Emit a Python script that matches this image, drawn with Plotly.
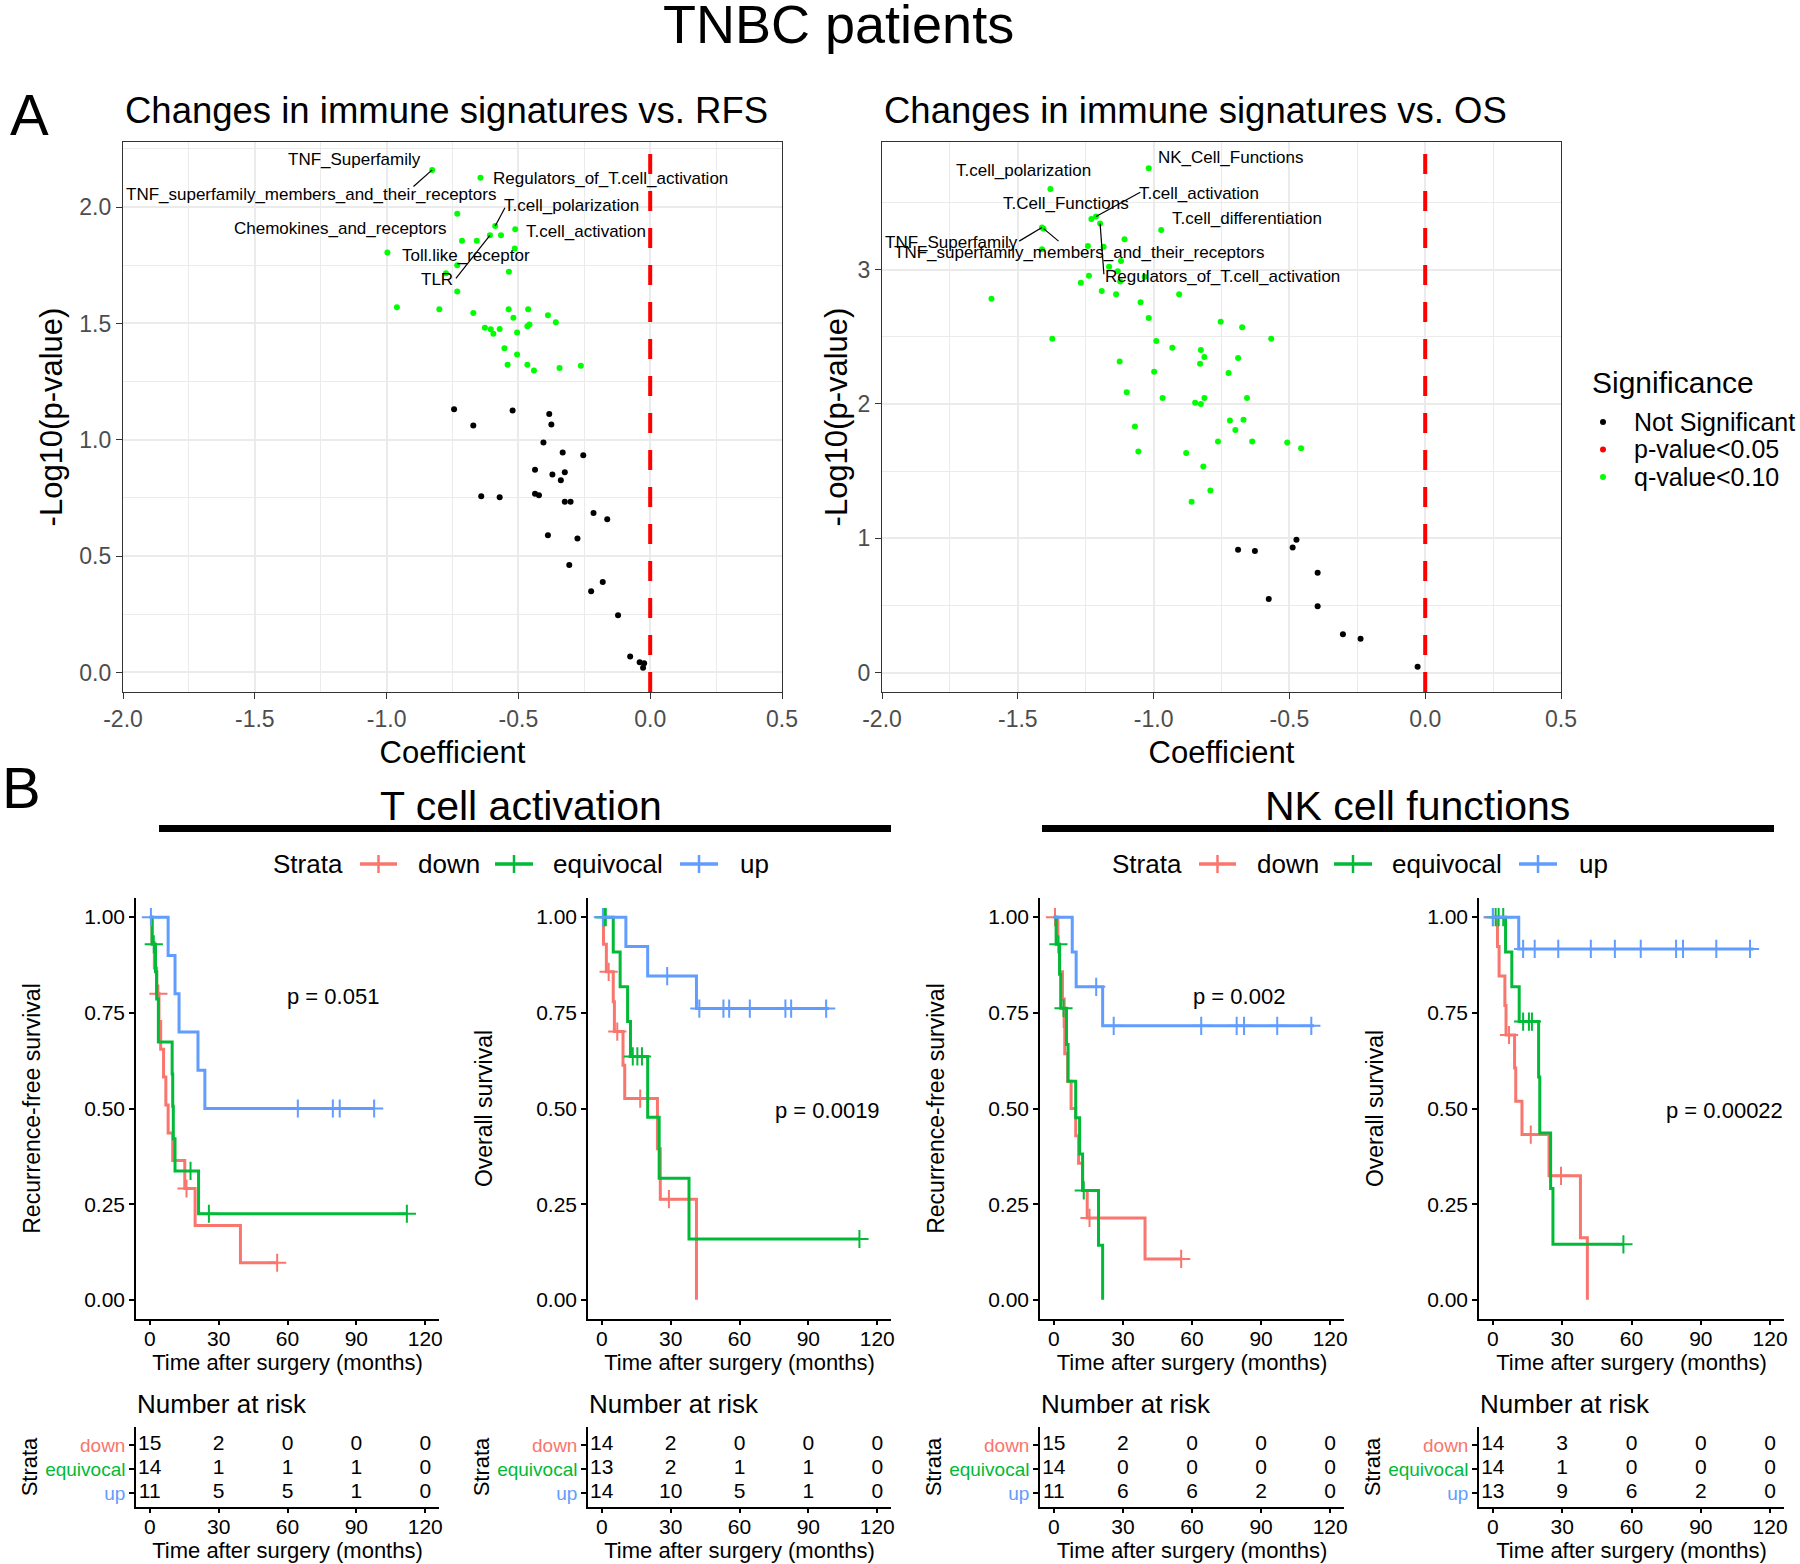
import numpy as np
import plotly.graph_objects as go

W, H = 1800, 1564
FONT = "Liberation Sans, Arial, sans-serif"

# ---------------- panel A data: coefficient vs -log10(p) ----------------
# labelled signatures come first in the significant arrays
rfs_label_names = ["TNF_Superfamily", "Regulators_of_T.cell_activation",
                   "TNF_superfamily_members_and_their_receptors", "T.cell_polarization",
                   "T.cell_activation", "Chemokines_and_receptors", "Toll.like_receptor", "TLR"]
rfs_sig_coef = [-0.827, -0.644, -0.732, -0.588, -0.512, -0.714, -0.732, -0.608,
                -0.658, -0.566, -0.514, -0.997, -0.775, -0.536, -0.732, -0.961, -0.800, -0.671,
                -0.537, -0.463, -0.519, -0.388, -0.358, -0.627, -0.605, -0.595, -0.571, -0.505,
                -0.466, -0.458, -0.553, -0.505, -0.541, -0.466, -0.441, -0.344, -0.263]
rfs_sig_logp = [2.160, 2.126, 1.972, 1.919, 1.905, 1.856, 1.750, 1.879,
                1.856, 1.879, 1.822, 1.805, 1.716, 1.722, 1.637, 1.570, 1.561, 1.545,
                1.561, 1.561, 1.525, 1.535, 1.505, 1.482, 1.475, 1.456, 1.476, 1.461,
                1.488, 1.496, 1.393, 1.367, 1.323, 1.323, 1.298, 1.309, 1.318]
rfs_ns_coef = [-0.744, -0.522, -0.671, -0.383, -0.375, -0.405, -0.332, -0.254, -0.437, -0.371,
               -0.324, -0.339, -0.641, -0.571, -0.437, -0.422, -0.324, -0.302, -0.215, -0.163,
               -0.388, -0.276, -0.307, -0.180, -0.224, -0.122, -0.076, -0.040, -0.023, -0.027]
rfs_ns_logp = [1.131, 1.126, 1.061, 1.111, 1.066, 0.988, 0.945, 0.934, 0.871, 0.851,
               0.860, 0.826, 0.757, 0.753, 0.768, 0.762, 0.734, 0.734, 0.685, 0.659,
               0.590, 0.576, 0.462, 0.389, 0.349, 0.246, 0.069, 0.044, 0.040, 0.020]

os_label_names = ["NK_Cell_Functions", "T.cell_polarization", "T.Cell_Functions", "T.cell_activation",
                  "T.cell_differentiation", "TNF_Superfamily",
                  "TNF_superfamily_members_and_their_receptors", "Regulators_of_T.cell_activation"]
os_sig_coef = [-1.018, -1.380, -1.229, -1.212, -0.972, -1.411, -1.405, -1.197,
               -1.107, -1.242, -1.184, -1.411, -1.120, -1.164, -1.132, -1.033, -1.238, -1.268,
               -1.123, -1.191, -1.138, -0.906, -1.597, -1.048, -1.018, -0.753, -0.674, -1.373,
               -0.567, -0.990, -0.931, -0.826, -0.813, -0.689, -1.125, -0.829, -0.998, -0.724,
               -1.099, -0.967, -0.813, -0.656, -0.847, -0.826, -0.719, -0.669, -0.699, -1.069,
               -0.763, -0.637, -0.508, -0.457, -1.056, -0.880, -0.817, -0.791, -0.860]
os_sig_logp = [3.754, 3.600, 3.377, 3.396, 3.295, 3.313, 3.305, 3.343,
               3.226, 3.175, 3.170, 3.151, 3.064, 3.021, 2.987, 2.947, 2.955, 2.902,
               2.912, 2.841, 2.817, 2.817, 2.782, 2.756, 2.639, 2.612, 2.570, 2.485,
               2.485, 2.469, 2.418, 2.402, 2.349, 2.341, 2.315, 2.299, 2.240, 2.230,
               2.086, 2.044, 2.044, 2.044, 2.009, 1.999, 1.876, 1.882, 1.805, 1.831,
               1.720, 1.720, 1.712, 1.669, 1.645, 1.635, 1.534, 1.356, 1.271]
os_ns_coef = [-0.689, -0.627, -0.488, -0.474, -0.396, -0.576, -0.396, -0.303, -0.238, -0.028]
os_ns_logp = [0.915, 0.904, 0.931, 0.989, 0.742, 0.548, 0.493, 0.285, 0.251, 0.043]

ref_coef = 0.0
coef_ticks = [-2.0, -1.5, -1.0, -0.5, 0.0, 0.5]
coef_ticklabels = ["-2.0", "-1.5", "-1.0", "-0.5", "0.0", "0.5"]
rfs_logp_ticks = [0.0, 0.5, 1.0, 1.5, 2.0]
rfs_logp_ticklabels = ["0.0", "0.5", "1.0", "1.5", "2.0"]
os_logp_ticks = [0, 1, 2, 3]
os_logp_ticklabels = ["0", "1", "2", "3"]

significance_levels = ["Not Significant", "p-value<0.05", "q-value<0.10"]

# ---------------- panel B data: Kaplan-Meier steps ----------------
strata = ["down", "equivocal", "up"]
time_ticks = [0, 30, 60, 90, 120]

# T cell activation, RFS
ta_rfs_down_t = [0, 1, 2, 3, 4, 4.75, 6, 7, 8, 10, 15.25, 19.75, 39.5, 55.5]
ta_rfs_down_s = [1, 0.933, 0.867, 0.8, 0.727, 0.655, 0.582, 0.509, 0.436, 0.364, 0.291, 0.194, 0.097, 0.097]
ta_rfs_down_c = [3.75, 16, 55.5]
ta_rfs_equi_t = [0, 1, 2.5, 3, 3.75, 9.75, 10, 10.25, 11, 21.25, 112]
ta_rfs_equi_s = [1, 0.929, 0.857, 0.786, 0.674, 0.590, 0.506, 0.421, 0.337, 0.225, 0.225]
ta_rfs_equi_c = [1.75, 17.75, 25.75, 112]
ta_rfs_up_t = [0, 8, 11, 12.75, 21, 24, 98]
ta_rfs_up_s = [1, 0.9, 0.8, 0.7, 0.6, 0.5, 0.5]
ta_rfs_up_c = [0.5, 64.5, 79.75, 82.75, 97.75]

# T cell activation, OS
ta_os_down_t = [0, 0.75, 2, 5, 5.5, 9.25, 10, 24.25, 25.5, 41.25]
ta_os_down_s = [1, 0.929, 0.857, 0.779, 0.701, 0.613, 0.526, 0.395, 0.263, 0]
ta_os_down_c = [3, 6.75, 16.75, 29.25]
ta_os_equi_t = [0, 5, 8, 11.25, 12.5, 20, 25, 38, 112.25]
ta_os_equi_s = [1, 0.909, 0.818, 0.727, 0.636, 0.477, 0.318, 0.159, 0.159]
ta_os_equi_c = [1.0, 1.75, 13.5, 15.5, 17.5, 112.25]
ta_os_up_t = [0, 10.5, 20, 41.25, 99]
ta_os_up_s = [1, 0.923, 0.846, 0.761, 0.761]
ta_os_up_c = [0.5, 28.5, 42.5, 53, 55.5, 64.5, 80, 82.5, 97.75]

# NK cell functions, RFS
nk_rfs_down_t = [0, 1.75, 2.5, 3.75, 4.5, 4.75, 6, 7.5, 9.5, 10.75, 12.5, 14.5, 39.6, 55.3]
nk_rfs_down_s = [1, 0.929, 0.857, 0.786, 0.714, 0.643, 0.571, 0.5, 0.429, 0.357, 0.286, 0.214, 0.107, 0.107]
nk_rfs_down_c = [0.5, 15.5, 55.3]
nk_rfs_equi_t = [0, 1, 2.5, 3, 5.5, 6.2, 9.5, 11.2, 12.5, 19.4, 21.2]
nk_rfs_equi_s = [1, 0.929, 0.851, 0.762, 0.667, 0.571, 0.476, 0.381, 0.286, 0.143, 0]
nk_rfs_equi_c = [2, 4.2, 13]
nk_rfs_up_t = [0, 8, 9.7, 21.2, 113]
nk_rfs_up_s = [1, 0.909, 0.818, 0.716, 0.716]
nk_rfs_up_c = [18.4, 26, 64, 79.4, 82.6, 97, 111.8]

# NK cell functions, OS
nk_os_down_t = [0, 2, 2.7, 5.2, 5.7, 9.4, 9.9, 12.6, 24.3, 37.9, 40.9]
nk_os_down_s = [1, 0.923, 0.846, 0.769, 0.692, 0.606, 0.519, 0.432, 0.324, 0.162, 0]
nk_os_down_c = [0, 7, 16.4, 29.5]
nk_os_equi_t = [0, 5.5, 8.2, 11.4, 19.8, 20.3, 25, 26, 56.5]
nk_os_equi_s = [1, 0.909, 0.818, 0.727, 0.582, 0.436, 0.291, 0.145, 0.145]
nk_os_equi_c = [1.2, 2.5, 4.5, 13.1, 15.6, 16.9, 56.5]
nk_os_up_t = [0, 11.2, 112.8]
nk_os_up_s = [1, 0.917, 0.917]
nk_os_up_c = [0, 13.1, 18.1, 28.3, 42.4, 52.8, 64, 79.3, 82.3, 96.7, 111.3]

# number at risk at 0, 30, 60, 90, 120 months
ta_rfs_risk_down = [15, 2, 0, 0, 0]
ta_rfs_risk_equi = [14, 1, 1, 1, 0]
ta_rfs_risk_up = [11, 5, 5, 1, 0]
ta_os_risk_down = [14, 2, 0, 0, 0]
ta_os_risk_equi = [13, 2, 1, 1, 0]
ta_os_risk_up = [14, 10, 5, 1, 0]
nk_rfs_risk_down = [15, 2, 0, 0, 0]
nk_rfs_risk_equi = [14, 0, 0, 0, 0]
nk_rfs_risk_up = [11, 6, 6, 2, 0]
nk_os_risk_down = [14, 3, 0, 0, 0]
nk_os_risk_equi = [14, 1, 0, 0, 0]
nk_os_risk_up = [13, 9, 6, 2, 0]

pvalue_text = ["p = 0.051", "p = 0.0019", "p = 0.002", "p = 0.00022"]

# ---------------- styling / placement ----------------
strata_colors = {"down": "#F8766D", "equivocal": "#00BA38", "up": "#619CFF"}
sig_colors = {"Not Significant": "black", "p-value<0.05": "red", "q-value<0.10": "#00FF00"}


def xd(a, b):
    return [a / W, b / W]


def yd(top, bottom):
    return [1 - bottom / H, 1 - top / H]


def px(x):
    return x / W


def py(y):
    return 1 - y / H


fig = go.Figure()

# ---- panel A ----
# label text centres (and optional leader end) in data units
rfs_label_place = {
    "TNF_Superfamily": (-1.120, 2.206, (-0.898, 2.089)),
    "Regulators_of_T.cell_activation": (-0.151, 2.123, None),
    "TNF_superfamily_members_and_their_receptors": (-1.286, 2.054, None),
    "T.cell_polarization": (-0.297, 2.005, (-0.551, 1.997)),
    "T.cell_activation": (-0.242, 1.896, None),
    "Chemokines_and_receptors": (-1.176, 1.909, None),
    "Toll.like_receptor": (-0.697, 1.790, None),
    "TLR": (-0.807, 1.691, (-0.737, 1.694)),
}
os_label_place = {
    "NK_Cell_Functions": (-0.714, 3.831, None),
    "T.cell_polarization": (-1.479, 3.738, None),
    "T.Cell_Functions": (-1.321, 3.494, None),
    "T.cell_activation": (-0.832, 3.568, (-1.049, 3.576)),
    "T.cell_differentiation": (-0.656, 3.382, None),
    "TNF_Superfamily": (-1.743, 3.199, (-1.495, 3.212)),
    "TNF_superfamily_members_and_their_receptors": (-1.273, 3.125, (-1.350, 3.212)),
    "Regulators_of_T.cell_activation": (-0.748, 2.950, (-1.183, 2.965)),
}

volcano = [
    ("x", "y", rfs_sig_coef, rfs_sig_logp, rfs_ns_coef, rfs_ns_logp, rfs_label_names, rfs_label_place),
    ("x2", "y2", os_sig_coef, os_sig_logp, os_ns_coef, os_ns_logp, os_label_names, os_label_place),
]
for xa, ya, sc, sl, nc, nl, names, place in volcano:
    fig.add_trace(go.Scatter(x=nc, y=nl, mode="markers", xaxis=xa, yaxis=ya,
                             marker=dict(color=sig_colors["Not Significant"], size=6), showlegend=False))
    fig.add_trace(go.Scatter(x=sc, y=sl, mode="markers", xaxis=xa, yaxis=ya,
                             marker=dict(color=sig_colors["q-value<0.10"], size=6), showlegend=False))
    fig.add_shape(type="line", xref=xa, yref=ya + " domain", x0=ref_coef, x1=ref_coef, y0=0, y1=1,
                  line=dict(color="red", width=4, dash="20px,17px"))
    for i, nm in enumerate(names):
        tx, ty, seg = place[nm]
        if seg is not None:
            fig.add_shape(type="line", xref=xa, yref=ya, x0=sc[i], y0=sl[i], x1=seg[0], y1=seg[1],
                          line=dict(color="black", width=1.2))
        fig.add_annotation(x=tx, y=ty, xref=xa, yref=ya, text=nm, showarrow=False, xanchor="center",
                           font=dict(size=17, color="black"))

# significance legend (drawn by hand to match ggplot spacing)
fig.add_annotation(x=px(1590), y=py(382), xref="paper", yref="paper", text="Significance",
                   showarrow=False, xanchor="left", yanchor="middle", font=dict(size=30, color="black"))
for i, lev in enumerate(significance_levels):
    yc = 422 + 27.5 * i
    fig.add_shape(type="circle", xref="paper", yref="paper", x0=px(1600), x1=px(1606),
                  y0=py(yc + 3), y1=py(yc - 3), fillcolor=sig_colors[lev], line=dict(width=0))
    fig.add_annotation(x=px(1632), y=py(yc), xref="paper", yref="paper", text=lev, showarrow=False,
                       xanchor="left", yanchor="middle", font=dict(size=25, color="black"))

minor_coef = list((np.array(coef_ticks[:-1]) + np.array(coef_ticks[1:])) / 2)
axis_a = dict(showline=True, mirror=True, linecolor="#333333", linewidth=1.2, ticks="outside",
              ticklen=6, tickcolor="#333333", zeroline=False, showgrid=True, gridcolor="#EBEBEB",
              gridwidth=1.6, tickfont=dict(size=23, color="#4D4D4D"), automargin=False)
grid_minor = dict(tickmode="array", showgrid=True, gridcolor="#EBEBEB", gridwidth=0.8, ticks="")
fig.update_layout(
    xaxis=dict(domain=xd(123, 782), range=[-2, 0.5], tickmode="array", tickvals=coef_ticks,
               ticktext=coef_ticklabels, anchor="y", minor=dict(tickvals=minor_coef, **grid_minor),
               title=dict(text="Coefficient", font=dict(size=31, color="black"), standoff=10), **axis_a),
    yaxis=dict(domain=yd(142, 692), range=[-0.084, 2.28], tickmode="array", tickvals=rfs_logp_ticks,
               ticktext=rfs_logp_ticklabels, anchor="x",
               minor=dict(tickvals=[0.25, 0.75, 1.25, 1.75, 2.25], **grid_minor),
               title=dict(text="-Log10(p-value)", font=dict(size=31, color="black"), standoff=7), **axis_a),
    xaxis2=dict(domain=xd(882, 1561), range=[-2, 0.5], tickmode="array", tickvals=coef_ticks,
                ticktext=coef_ticklabels, anchor="y2", minor=dict(tickvals=minor_coef, **grid_minor),
                title=dict(text="Coefficient", font=dict(size=31, color="black"), standoff=10), **axis_a),
    yaxis2=dict(domain=yd(142, 692), range=[-0.145, 3.95], tickmode="array", tickvals=os_logp_ticks,
                ticktext=os_logp_ticklabels, anchor="x2",
                minor=dict(tickvals=[0.5, 1.5, 2.5, 3.5], **grid_minor),
                title=dict(text="-Log10(p-value)", font=dict(size=31, color="black"), standoff=0), **axis_a),
)

# ---- panel B ----
km_panels = [
    dict(curves=[(ta_rfs_down_t, ta_rfs_down_s, ta_rfs_down_c), (ta_rfs_equi_t, ta_rfs_equi_s, ta_rfs_equi_c),
                 (ta_rfs_up_t, ta_rfs_up_s, ta_rfs_up_c)],
         risk=[ta_rfs_risk_down, ta_rfs_risk_equi, ta_rfs_risk_up], ytitle="Recurrence-free survival",
         px=(136, 439), ptxt=(80, 0.793)),
    dict(curves=[(ta_os_down_t, ta_os_down_s, ta_os_down_c), (ta_os_equi_t, ta_os_equi_s, ta_os_equi_c),
                 (ta_os_up_t, ta_os_up_s, ta_os_up_c)],
         risk=[ta_os_risk_down, ta_os_risk_equi, ta_os_risk_up], ytitle="Overall survival",
         px=(588, 891), ptxt=(98.5, 0.494)),
    dict(curves=[(nk_rfs_down_t, nk_rfs_down_s, nk_rfs_down_c), (nk_rfs_equi_t, nk_rfs_equi_s, nk_rfs_equi_c),
                 (nk_rfs_up_t, nk_rfs_up_s, nk_rfs_up_c)],
         risk=[nk_rfs_risk_down, nk_rfs_risk_equi, nk_rfs_risk_up], ytitle="Recurrence-free survival",
         px=(1040, 1344), ptxt=(80.2, 0.793)),
    dict(curves=[(nk_os_down_t, nk_os_down_s, nk_os_down_c), (nk_os_equi_t, nk_os_equi_s, nk_os_equi_c),
                 (nk_os_up_t, nk_os_up_s, nk_os_up_c)],
         risk=[nk_os_risk_down, nk_os_risk_equi, nk_os_risk_up], ytitle="Overall survival",
         px=(1479, 1784), ptxt=(100.4, 0.494)),
]

axis_b = dict(showline=True, linecolor="black", linewidth=1.5, ticks="outside", ticklen=5, tickwidth=1.5,
              tickcolor="black", zeroline=False, showgrid=False, tickfont=dict(size=21, color="black"),
              automargin=False)
xaxis_b = {**axis_b, "ticklen": 4, "ticklabelstandoff": -4}
strata_ticktext = ['<span style="color:%s">%s</span>' % (strata_colors[s], s) for s in strata]
strata_pos = [len(strata) - i for i in range(len(strata))]

for p, panel in enumerate(km_panels):
    n_km = 3 + p
    n_rt = 7 + p
    xk, yk = "x%d" % n_km, "y%d" % n_km
    xr, yr = "x%d" % n_rt, "y%d" % n_rt
    for s, (t, sv, cens) in zip(strata, panel["curves"]):
        col = strata_colors[s]
        fig.add_trace(go.Scatter(x=t, y=sv, mode="lines", line=dict(color=col, width=3, shape="hv"),
                                 xaxis=xk, yaxis=yk, showlegend=False))
        idx = np.searchsorted(t, cens, side="right") - 1
        fig.add_trace(go.Scatter(x=cens, y=np.array(sv)[idx], mode="markers", xaxis=xk, yaxis=yk,
                                 marker=dict(symbol="cross-thin", size=13, line=dict(width=2, color=col)),
                                 showlegend=False))
    for i, s in enumerate(strata):
        fig.add_trace(go.Scatter(x=time_ticks, y=[strata_pos[i]] * len(time_ticks), mode="text",
                                 text=[str(v) for v in panel["risk"][i]], xaxis=xr, yaxis=yr,
                                 textfont=dict(size=21, color="black"), showlegend=False))
    fig.add_annotation(x=panel["ptxt"][0], y=panel["ptxt"][1], xref=xk, yref=yk, text=pvalue_text[p],
                       showarrow=False, xanchor="center", font=dict(size=22, color="black"))
    fig.add_annotation(x=px(panel["px"][0] - 1), y=py(1404), xref="paper", yref="paper",
                       text="Number at risk", showarrow=False, xanchor="left", yanchor="middle",
                       font=dict(size=26, color="black"))
    fig.layout["xaxis%d" % n_km] = dict(domain=xd(*panel["px"]), range=[-6, 126], tickvals=time_ticks,
                                         anchor=yk, title=dict(text="Time after surgery (months)",
                                                               font=dict(size=22, color="black"), standoff=6),
                                         **xaxis_b)
    fig.layout["yaxis%d" % n_km] = dict(domain=yd(898, 1319), range=[-0.05, 1.05],
                                         tickvals=[0, 0.25, 0.5, 0.75, 1.0], tickformat=".2f", anchor=xk,
                                         title=dict(text=panel["ytitle"], font=dict(size=23, color="black"),
                                                    standoff=37), **axis_b)
    fig.layout["xaxis%d" % n_rt] = dict(domain=xd(*panel["px"]), range=[-6, 126], tickvals=time_ticks,
                                         anchor=yr, title=dict(text="Time after surgery (months)",
                                                               font=dict(size=22, color="black"), standoff=6),
                                         **xaxis_b)
    fig.layout["yaxis%d" % n_rt] = dict(domain=yd(1427, 1507), range=[0.42, 3.75], tickmode="array",
                                         tickvals=strata_pos, ticktext=strata_ticktext, anchor=xr,
                                         title=dict(text="Strata", font=dict(size=22, color="black"), standoff=1),
                                         **{**axis_b, "tickfont": dict(size=19)})

# strata legends above each pair of curves (key line + "+" censor glyph, then label)
key_offsets = [(89, 126, 145), (224, 262, 280), (409, 447, 467)]
for x0 in [271, 1110]:
    yc = 864
    fig.add_annotation(x=px(x0), y=py(yc), xref="paper", yref="paper", text="Strata", showarrow=False,
                       xanchor="left", yanchor="middle", font=dict(size=26, color="black"))
    for s, (a, b, tx) in zip(strata, key_offsets):
        col = strata_colors[s]
        fig.add_shape(type="line", xref="paper", yref="paper", x0=px(x0 + a), x1=px(x0 + b),
                      y0=py(yc), y1=py(yc), line=dict(color=col, width=3.5))
        mid = x0 + (a + b) / 2
        fig.add_shape(type="line", xref="paper", yref="paper", x0=px(mid), x1=px(mid),
                      y0=py(yc - 9), y1=py(yc + 9), line=dict(color=col, width=2.5))
        fig.add_annotation(x=px(x0 + tx), y=py(yc), xref="paper", yref="paper", text=s, showarrow=False,
                           xanchor="left", yanchor="middle", font=dict(size=26, color="black"))

# headers over panel B
for txt, cx, bar in [("T cell activation", 521, (159, 891)), ("NK cell functions", 1417, (1042, 1774))]:
    fig.add_annotation(x=px(cx), y=py(806), xref="paper", yref="paper", text=txt, showarrow=False,
                       font=dict(size=41, color="black"), xanchor="center", yanchor="middle")
    fig.add_shape(type="rect", xref="paper", yref="paper", x0=px(bar[0]), x1=px(bar[1]),
                  y0=py(832), y1=py(825), fillcolor="black", line=dict(width=0))

# titles and panel letters
fig.add_annotation(x=px(838), y=py(24), xref="paper", yref="paper", text="TNBC patients",
                   showarrow=False, font=dict(size=54, color="black"), xanchor="center", yanchor="middle")
fig.add_annotation(x=px(123), y=py(110), xref="paper", yref="paper",
                   text="Changes in immune signatures vs. RFS", showarrow=False, xanchor="left",
                   yanchor="middle", font=dict(size=36.5, color="black"))
fig.add_annotation(x=px(882), y=py(110), xref="paper", yref="paper",
                   text="Changes in immune signatures vs. OS", showarrow=False, xanchor="left",
                   yanchor="middle", font=dict(size=36.5, color="black"))
fig.add_annotation(x=px(8), y=py(115), xref="paper", yref="paper", text="A", showarrow=False,
                   xanchor="left", yanchor="middle", font=dict(size=58, color="black"))
fig.add_annotation(x=0, y=py(787), xref="paper", yref="paper", text="B", showarrow=False,
                   xanchor="left", yanchor="middle", font=dict(size=58, color="black"))

fig.update_layout(
    width=W, height=H, margin=dict(l=0, r=0, t=0, b=0),
    paper_bgcolor="white", plot_bgcolor="white",
    font=dict(family=FONT, color="black"),
    showlegend=False,
)

# drop the browser's default page margin so the figure sits at the window origin
fig.write_html("out.html", config={"displayModeBar": False},
               post_script="document.body.style.margin='0';document.body.style.overflow='hidden';")
